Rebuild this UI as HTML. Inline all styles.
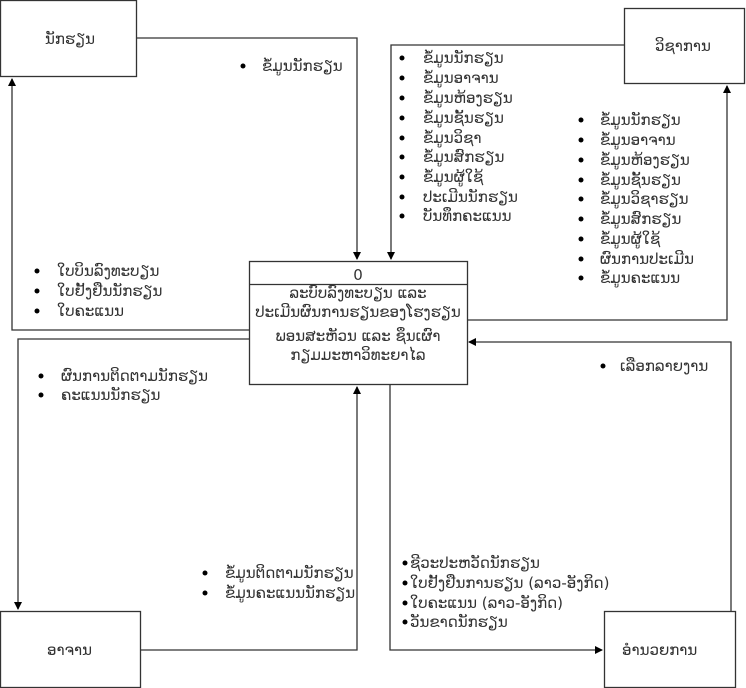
<!DOCTYPE html>
<html><head><meta charset="utf-8"><style>
body{margin:0;background:#fff}
svg{display:block}
text{font-family:"DejaVu Sans","Liberation Sans",sans-serif;font-size:15px;fill:#333}
.b{fill:#000}
</style></head><body>
<svg width="746" height="688" viewBox="0 0 746 688" xmlns="http://www.w3.org/2000/svg">
<defs><marker id="a" markerWidth="8" markerHeight="8" refX="7" refY="4" orient="auto" markerUnits="userSpaceOnUse"><path d="M0,0 L8,4 L0,8z" fill="#000"/></marker></defs>
<g fill="none" stroke="#333" stroke-width="1.3">
<rect x="0.5" y="0.5" width="136" height="76"/>
<rect x="624.5" y="8.5" width="120" height="75"/>
<rect x="0.5" y="611.5" width="140" height="76"/>
<rect x="604.5" y="611.5" width="131" height="76"/>
<rect x="249.5" y="261.5" width="218" height="123"/>
<line x1="249" y1="284.5" x2="467" y2="284.5"/>
<polyline points="136,38 357,38 357,259" marker-end="url(#a)"/>
<polyline points="624,45 391,45 391,259" marker-end="url(#a)"/>
<polyline points="467,320 727,320 727,86" marker-end="url(#a)"/>
<polyline points="249,330 12,330 12,79" marker-end="url(#a)"/>
<polyline points="249,339 18,339 18,609" marker-end="url(#a)"/>
<polyline points="141,650 357,650 357,387" marker-end="url(#a)"/>
<polyline points="731,611 731,342 469,342" marker-end="url(#a)"/>
<polyline points="390,385 390,650 602,650" marker-end="url(#a)"/>
</g>
<text x="45" y="44">ນັກຮຽນ</text>
<text x="655" y="51">ວິຊາການ</text>
<text x="47" y="655">ອາຈານ</text>
<text x="622" y="655">ອຳນວຍການ</text>
<text x="358" y="280" text-anchor="middle" font-size="17">0</text>
<text x="358" y="298" text-anchor="middle">ລະບົບລົງທະບຽນ  ແລະ</text>
<text x="358" y="317" text-anchor="middle">ປະເມີນຜົນການຮຽນຂອງໂຮງຮຽນ</text>
<text x="358" y="341" text-anchor="middle">ພອນສະຫັວນ  ແລະ  ຊຶນເຜົາ</text>
<text x="358" y="360" text-anchor="middle">ກຽມມະຫາວິທະຍາໄລ</text>
<g>
<circle class="b" cx="243" cy="66" r="2.5"/><text x="262" y="71">ຂໍ້ມູນນັກຮຽນ</text>
</g>
<g>
<circle class="b" cx="402" cy="58" r="2.5"/><text x="423" y="63">ຂໍ້ມູນນັກຮຽນ</text>
<circle class="b" cx="402" cy="78" r="2.5"/><text x="423" y="83">ຂໍ້ມູນອາຈານ</text>
<circle class="b" cx="402" cy="98" r="2.5"/><text x="423" y="103">ຂໍ້ມູນຫ້ອງຮຽນ</text>
<circle class="b" cx="402" cy="118" r="2.5"/><text x="423" y="123">ຂໍ້ມູນຊັ້ນຮຽນ</text>
<circle class="b" cx="402" cy="138" r="2.5"/><text x="423" y="143">ຂໍ້ມູນວິຊາ</text>
<circle class="b" cx="402" cy="157" r="2.5"/><text x="423" y="162">ຂໍ້ມູນສົກຮຽນ</text>
<circle class="b" cx="402" cy="177" r="2.5"/><text x="423" y="182">ຂໍ້ມູນຜູ້ໃຊ້</text>
<circle class="b" cx="402" cy="197" r="2.5"/><text x="423" y="202">ປະເມີນນັກຮຽນ</text>
<circle class="b" cx="402" cy="216" r="2.5"/><text x="423" y="221">ບັນທຶກຄະແນນ</text>
</g>
<g>
<circle class="b" cx="581" cy="120" r="2.5"/><text x="600" y="125">ຂໍ້ມູນນັກຮຽນ</text>
<circle class="b" cx="581" cy="140" r="2.5"/><text x="600" y="145">ຂໍ້ມູນອາຈານ</text>
<circle class="b" cx="581" cy="160" r="2.5"/><text x="600" y="165">ຂໍ້ມູນຫ້ອງຮຽນ</text>
<circle class="b" cx="581" cy="180" r="2.5"/><text x="600" y="185">ຂໍ້ມູນຊັ້ນຮຽນ</text>
<circle class="b" cx="581" cy="199" r="2.5"/><text x="600" y="204">ຂໍ້ມູນວິຊາຮຽນ</text>
<circle class="b" cx="581" cy="219" r="2.5"/><text x="600" y="224">ຂໍ້ມູນສົກຮຽນ</text>
<circle class="b" cx="581" cy="239" r="2.5"/><text x="600" y="244">ຂໍ້ມູນຜູ້ໃຊ້</text>
<circle class="b" cx="581" cy="259" r="2.5"/><text x="600" y="264">ຜົນການປະເມີນ</text>
<circle class="b" cx="581" cy="278" r="2.5"/><text x="600" y="283">ຂໍ້ມູນຄະແນນ</text>
</g>
<g>
<circle class="b" cx="37" cy="271" r="2.5"/><text x="57" y="276">ໃບບິນລົງທະບຽນ</text>
<circle class="b" cx="37" cy="291" r="2.5"/><text x="57" y="296">ໃບຢັ້ງຢືນນັກຮຽນ</text>
<circle class="b" cx="37" cy="311" r="2.5"/><text x="57" y="316">ໃບຄະແນນ</text>
<circle class="b" cx="41" cy="376" r="2.5"/><text x="61" y="381">ຜົນການຕິດຕາມນັກຮຽນ</text>
<circle class="b" cx="41" cy="395" r="2.5"/><text x="61" y="400">ຄະແນນນັກຮຽນ</text>
<circle class="b" cx="205" cy="573" r="2.5"/><text x="225" y="578">ຂໍ້ມູນຕິດຕາມນັກຮຽນ</text>
<circle class="b" cx="205" cy="593" r="2.5"/><text x="225" y="598">ຂໍ້ມູນຄະແນນນັກຮຽນ</text>
<circle class="b" cx="603" cy="366" r="2.5"/><text x="620" y="371">ເລືອກລາຍງານ</text>
</g>
<g>
<circle class="b" cx="405" cy="563" r="2.5"/><text x="410" y="568">ຊີວະປະຫວັດນັກຮຽນ</text>
<circle class="b" cx="405" cy="583" r="2.5"/><text x="410" y="588">ໃບຢັ້ງຢືນການຮຽນ  (ລາວ-ອັງກິດ)</text>
<circle class="b" cx="405" cy="603" r="2.5"/><text x="410" y="608">ໃບຄະແນນ  (ລາວ-ອັງກິດ)</text>
<circle class="b" cx="405" cy="622" r="2.5"/><text x="410" y="627">ວັນຂາດນັກຮຽນ</text>
</g>
</svg>
</body></html>
